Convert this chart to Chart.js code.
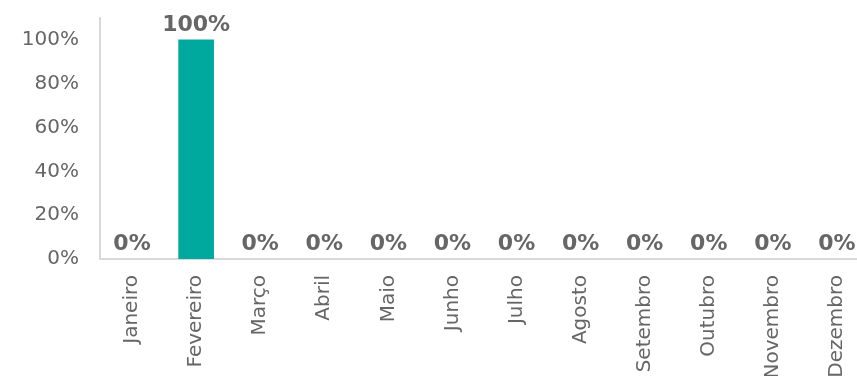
<!DOCTYPE html>
<html>
<head>
<meta charset="utf-8">
<script src="https://cdn.jsdelivr.net/npm/chart.js@4"></script>
<style>
  html,body{margin:0;padding:0;background:#fff;overflow:hidden}
  #wrap{width:870px;height:376px}
</style>
</head>
<body>
<div id="wrap"><canvas id="c" width="870" height="376"></canvas></div>
<script>
// dados
const meses = ['Janeiro','Fevereiro','Março','Abril','Maio','Junho','Julho','Agosto','Setembro','Outubro','Novembro','Dezembro'];
const valores = [0,100,0,0,0,0,0,0,0,0,0,0];
const yTicks = [0,20,40,60,80,100];

const cinza = '#666666';
const fonte = '"DejaVu Sans", Verdana, sans-serif';

// rótulos em cima das barras
const rotulos = {
  id:'rotulos',
  afterDatasetsDraw(chart){
    const ctx = chart.ctx;
    const meta = chart.getDatasetMeta(0);
    ctx.save();
    ctx.font = 'bold 22px ' + fonte;
    ctx.fillStyle = cinza;
    ctx.textAlign = 'center';
    ctx.textBaseline = 'alphabetic';
    meta.data.forEach((bar,i)=>{
      ctx.fillText(valores[i] + '%', bar.x, bar.y - 9);
    });
    ctx.restore();
  }
};

new Chart(document.getElementById('c'), {
  type:'bar',
  data:{labels:meses, datasets:[{
    data:valores,
    backgroundColor:c=>c.raw>0 ? '#00A99D' : 'rgba(0,0,0,0)',
    barThickness:35
  }]},
  options:{
    responsive:false, animation:false,
    layout:{padding:{top:18, right:1, left:0, bottom:0}},
    plugins:{legend:{display:false}, tooltip:{enabled:false}},
    scales:{
      x:{
        grid:{display:false},
        border:{display:true, color:'#D9D9D9', width:2},
        ticks:{color:cinza, font:{family:fonte, size:20}, maxRotation:90, minRotation:90, padding:8, autoSkip:false},
        afterFit(s){ s.height = 117; s.paddingLeft = 0; s.paddingRight = 0; }
      },
      y:{
        min:0, max:110,
        grid:{display:false},
        border:{display:true, color:'#D9D9D9', width:2},
        afterBuildTicks(s){ s.ticks = yTicks.map(v=>({value:v})); },
        ticks:{color:cinza, font:{family:fonte, size:20}, padding:13, callback:v=>v + '%'},
        afterFit(s){ s.width = 100; s.paddingTop = 0; s.paddingBottom = 0; }
      }
    }
  },
  plugins:[rotulos]
});
</script>
</body>
</html>
